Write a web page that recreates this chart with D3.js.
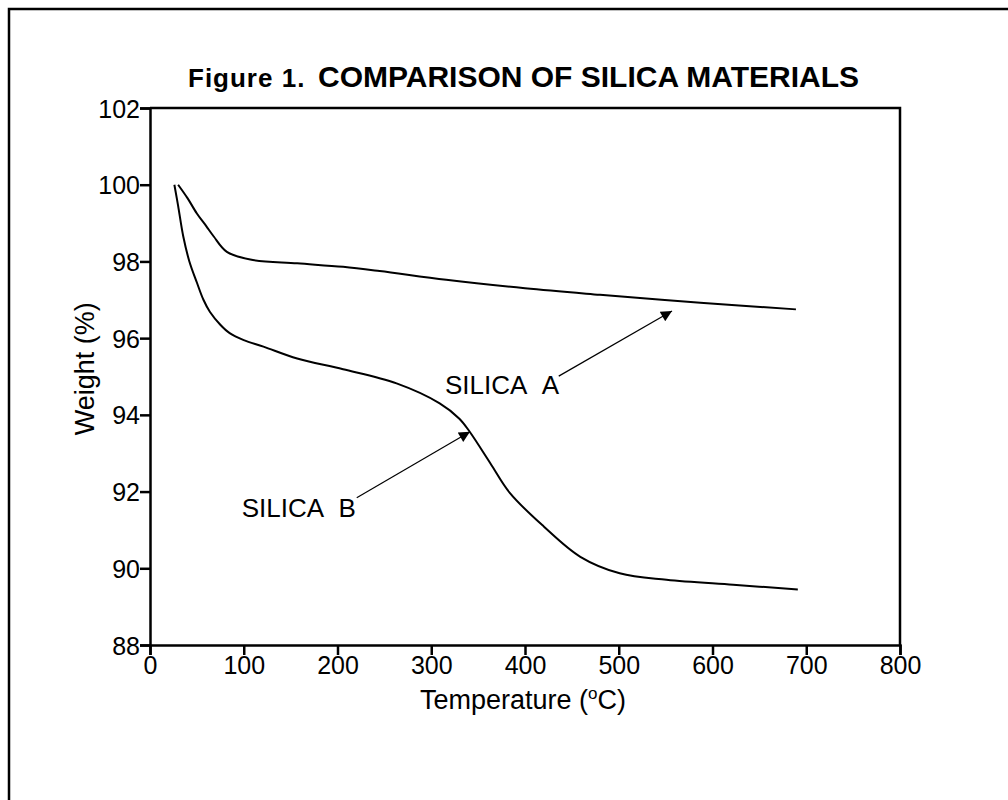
<!DOCTYPE html>
<html>
<head>
<meta charset="utf-8">
<script src="https://cdn.jsdelivr.net/npm/d3@7"></script>
<style>
  body { margin: 0; background: #fff; }
  text { font-family: "Liberation Sans", Arial, sans-serif; fill: #000; }
</style>
</head>
<body>
<script>
// Données
const tempA = [30, 40, 50, 60, 68, 82, 107, 157, 206, 245, 316, 400, 480, 587, 689];
const weightA = [100.0, 99.65, 99.25, 98.92, 98.65, 98.25, 98.05, 97.95, 97.86, 97.75, 97.52, 97.3, 97.13, 96.92, 96.75];

const tempB = [26, 30, 35.5, 42, 50, 57, 64, 75, 85, 100, 121, 157, 206, 263, 309, 330, 341, 363, 384, 420, 459, 501, 551, 622, 691];
const weightB = [100.0, 99.45, 98.65, 98.0, 97.45, 97.0, 96.68, 96.35, 96.13, 95.95, 95.78, 95.47, 95.19, 94.82, 94.3, 93.9, 93.56, 92.74, 91.96, 91.09, 90.3, 89.87, 89.7, 89.57, 89.45];

const xTicks = [0, 100, 200, 300, 400, 500, 600, 700, 800];
const yTicks = [88, 90, 92, 94, 96, 98, 100, 102];

// étiquettes + flèches (coordonnées en données : départ, pointe)
const labelNames = ["SILICA A", "SILICA B"];
const labelAt = [[314.7, 94.54], [97.8, 91.33]];
const arrowFrom = [[436, 95.01], [220.5, 91.84]];
const arrowTo = [[556.8, 96.71], [341.3, 93.56]];

const width = 1008, height = 800;

const svg = d3.select("body").append("svg")
  .attr("width", width)
  .attr("height", height);

// cadre extérieur (seuls haut et gauche visibles)
svg.append("rect")
  .attr("x", 9).attr("y", 9)
  .attr("width", 1100).attr("height", 900)
  .attr("fill", "none")
  .attr("stroke", "#000")
  .attr("stroke-width", 2.5);

const x = d3.scaleLinear().domain([0, 800]).range([150, 900]);
const y = d3.scaleLinear().domain([88, 102]).range([645, 108]);

// titre
const title = svg.append("text")
  .attr("y", 87)
  .style("font-weight", "bold");
title.append("tspan").attr("x", 188)
  .style("font-size", "26px").style("letter-spacing", "1px")
  .text("Figure 1.");
title.append("tspan").attr("x", 318)
  .style("font-size", "30px")
  .text("COMPARISON OF SILICA MATERIALS");

// axes
const xAxis = svg.append("g")
  .attr("transform", `translate(0,${y(88)})`)
  .call(d3.axisBottom(x).tickValues(xTicks).tickSize(10).tickPadding(1));
const yAxis = svg.append("g")
  .attr("transform", `translate(${x(0)},0)`)
  .call(d3.axisLeft(y).tickValues(yTicks).tickSize(10).tickPadding(0));

[xAxis, yAxis].forEach(g => {
  g.select(".domain").attr("stroke-width", 2.5);
  g.selectAll(".tick line").attr("stroke-width", 2.5);
  g.selectAll(".tick text")
    .style("font-family", "'Liberation Sans', Arial, sans-serif")
    .style("font-size", "25px");
});
yAxis.selectAll(".tick text").attr("dy", "0.36em");

// haut et droite du cadre du graphe
svg.append("path")
  .attr("d", `M${x(0)},${y(102)}H${x(800)}V${y(88)}`)
  .attr("fill", "none")
  .attr("stroke", "#000")
  .attr("stroke-width", 2.5);

// titres des axes
const xt = svg.append("text")
  .attr("x", x(400) - 2).attr("y", 709)
  .attr("text-anchor", "middle")
  .style("font-size", "27px");
xt.append("tspan").text("Temperature (");
xt.append("tspan").attr("dy", -10).style("font-size", "17px").text("o");
xt.append("tspan").attr("dy", 10).text("C)");

svg.append("text")
  .attr("transform", `translate(94,${y(95.2)}) rotate(-90)`)
  .attr("text-anchor", "middle")
  .style("font-size", "27px")
  .text("Weight (%)");

// courbes
const line = d3.line()
  .x(d => x(d[0]))
  .y(d => y(d[1]))
  .curve(d3.curveCatmullRom.alpha(0.5));

const seriesA = tempA.map((t, i) => [t, weightA[i]]);
const seriesB = tempB.map((t, i) => [t, weightB[i]]);

[seriesA, seriesB].forEach(s => {
  svg.append("path")
    .datum(s)
    .attr("d", line)
    .attr("fill", "none")
    .attr("stroke", "#000")
    .attr("stroke-width", 2);
});

// flèches
svg.append("defs").append("marker")
  .attr("id", "head")
  .attr("viewBox", "0 0 10 10")
  .attr("refX", 10).attr("refY", 5)
  .attr("markerUnits", "userSpaceOnUse")
  .attr("markerWidth", 20).attr("markerHeight", 11)
  .attr("orient", "auto")
  .append("path")
  .attr("d", "M0,0L10,5L0,10Z")
  .attr("fill", "#000");

labelNames.forEach((name, i) => {
  svg.append("line")
    .attr("x1", x(arrowFrom[i][0])).attr("y1", y(arrowFrom[i][1]))
    .attr("x2", x(arrowTo[i][0])).attr("y2", y(arrowTo[i][1]))
    .attr("stroke", "#000")
    .attr("stroke-width", 1.2)
    .attr("marker-end", "url(#head)");

  svg.append("text")
    .attr("x", x(labelAt[i][0])).attr("y", y(labelAt[i][1]))
    .style("font-size", "26px")
    .text(name.replace(" ", "\u00a0\u00a0"));
});
</script>
</body>
</html>
